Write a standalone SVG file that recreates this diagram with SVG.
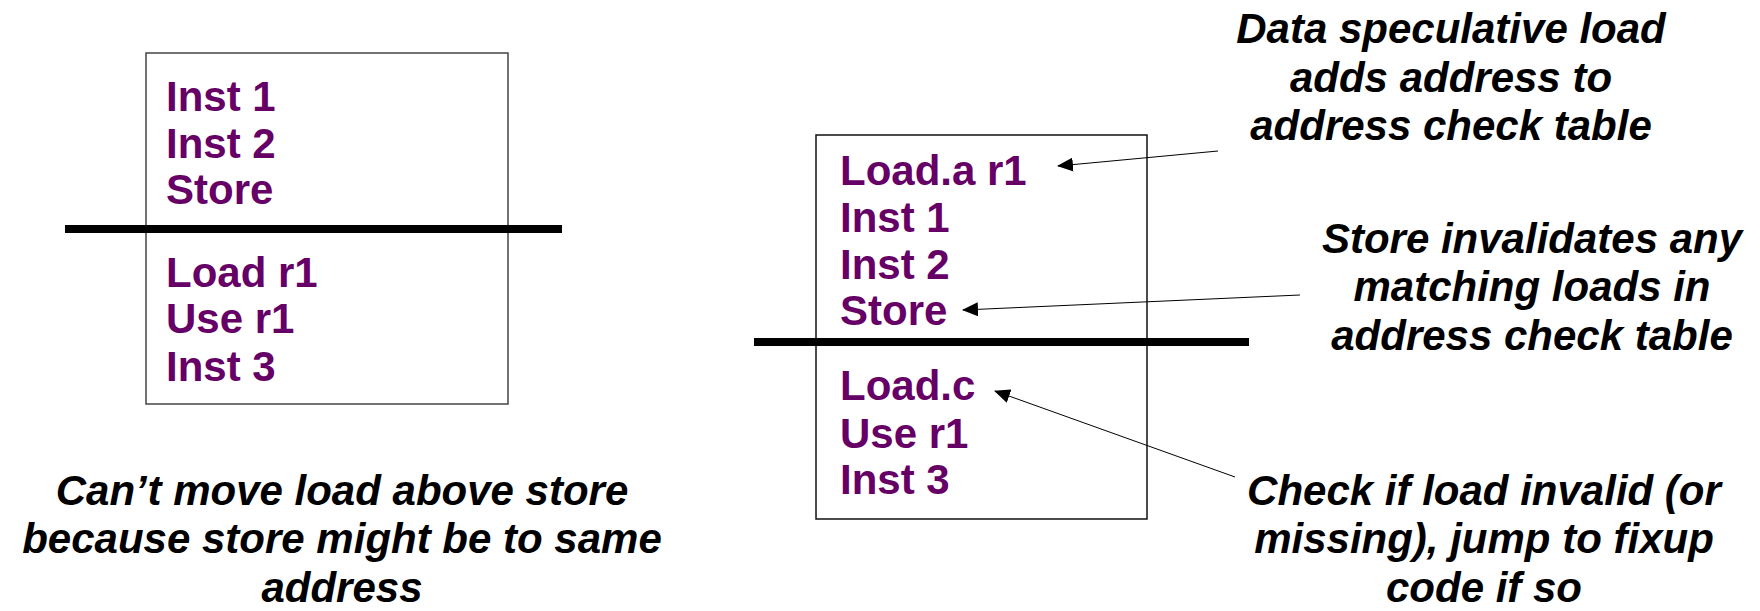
<svg xmlns="http://www.w3.org/2000/svg" width="1760" height="611" viewBox="0 0 1760 611">
<defs>
<style>
.code{font-family:"Liberation Sans",Arial,sans-serif;font-weight:bold;font-size:42px;fill:#660066}
.note{font-family:"Liberation Sans",Arial,sans-serif;font-weight:bold;font-style:italic;font-size:42px;fill:#000;text-anchor:middle}
.box{fill:#fff;stroke:#444;stroke-width:1.5}
.box2{fill:#fff;stroke:#111;stroke-width:1.5}
.bar{stroke:#000;stroke-width:8}
.conn{stroke:#000;stroke-width:1;fill:none;marker-end:url(#ah)}
</style>
<marker id="ah" viewBox="0 0 16 14" refX="15" refY="7" markerWidth="16" markerHeight="14" markerUnits="userSpaceOnUse" orient="auto">
<path d="M0,0 L16,7 L0,14 Z" fill="#000"/>
</marker>
</defs>
<rect width="1760" height="611" fill="#fff"/>
<g id="left-box">
<rect class="box" x="146" y="53" width="362" height="351"/>
<line class="bar" x1="65" y1="229" x2="562" y2="229"/>
<text class="code" x="166" y="111">Inst 1</text>
<text class="code" x="166" y="158">Inst 2</text>
<text class="code" x="166" y="204">Store</text>
<text class="code" x="166" y="287">Load r1</text>
<text class="code" x="166" y="333">Use r1</text>
<text class="code" x="166" y="381">Inst 3</text>
</g>
<g id="left-note">
<text class="note" x="342" y="505">Can’t move load above store</text>
<text class="note" x="342" y="553">because store might be to same</text>
<text class="note" x="342" y="602">address</text>
</g>
<g id="right-box">
<rect class="box2" x="816" y="135" width="331" height="384"/>
<line class="bar" x1="754" y1="342" x2="1249" y2="342"/>
<text class="code" x="840" y="185">Load.a r1</text>
<text class="code" x="840" y="232">Inst 1</text>
<text class="code" x="840" y="279">Inst 2</text>
<text class="code" x="840" y="325">Store</text>
<text class="code" x="840" y="400">Load.c</text>
<text class="code" x="840" y="448">Use r1</text>
<text class="code" x="840" y="494">Inst 3</text>
</g>
<g id="note-data">
<text class="note" x="1451" y="43">Data speculative load</text>
<text class="note" x="1451" y="92">adds address to</text>
<text class="note" x="1451" y="140">address check table</text>
</g>
<g id="note-store">
<text class="note" x="1532" y="253">Store invalidates any</text>
<text class="note" x="1532" y="301">matching loads in</text>
<text class="note" x="1532" y="350">address check table</text>
</g>
<g id="note-check">
<text class="note" x="1484" y="505">Check if load invalid (or</text>
<text class="note" x="1484" y="553">missing), jump to fixup</text>
<text class="note" x="1484" y="602">code if so</text>
</g>
<g id="connectors">
<line class="conn" x1="1218" y1="151" x2="1058" y2="166"/>
<line class="conn" x1="1300" y1="295" x2="963" y2="310"/>
<line class="conn" x1="1235" y1="477" x2="995" y2="391"/>
</g>
</svg>
